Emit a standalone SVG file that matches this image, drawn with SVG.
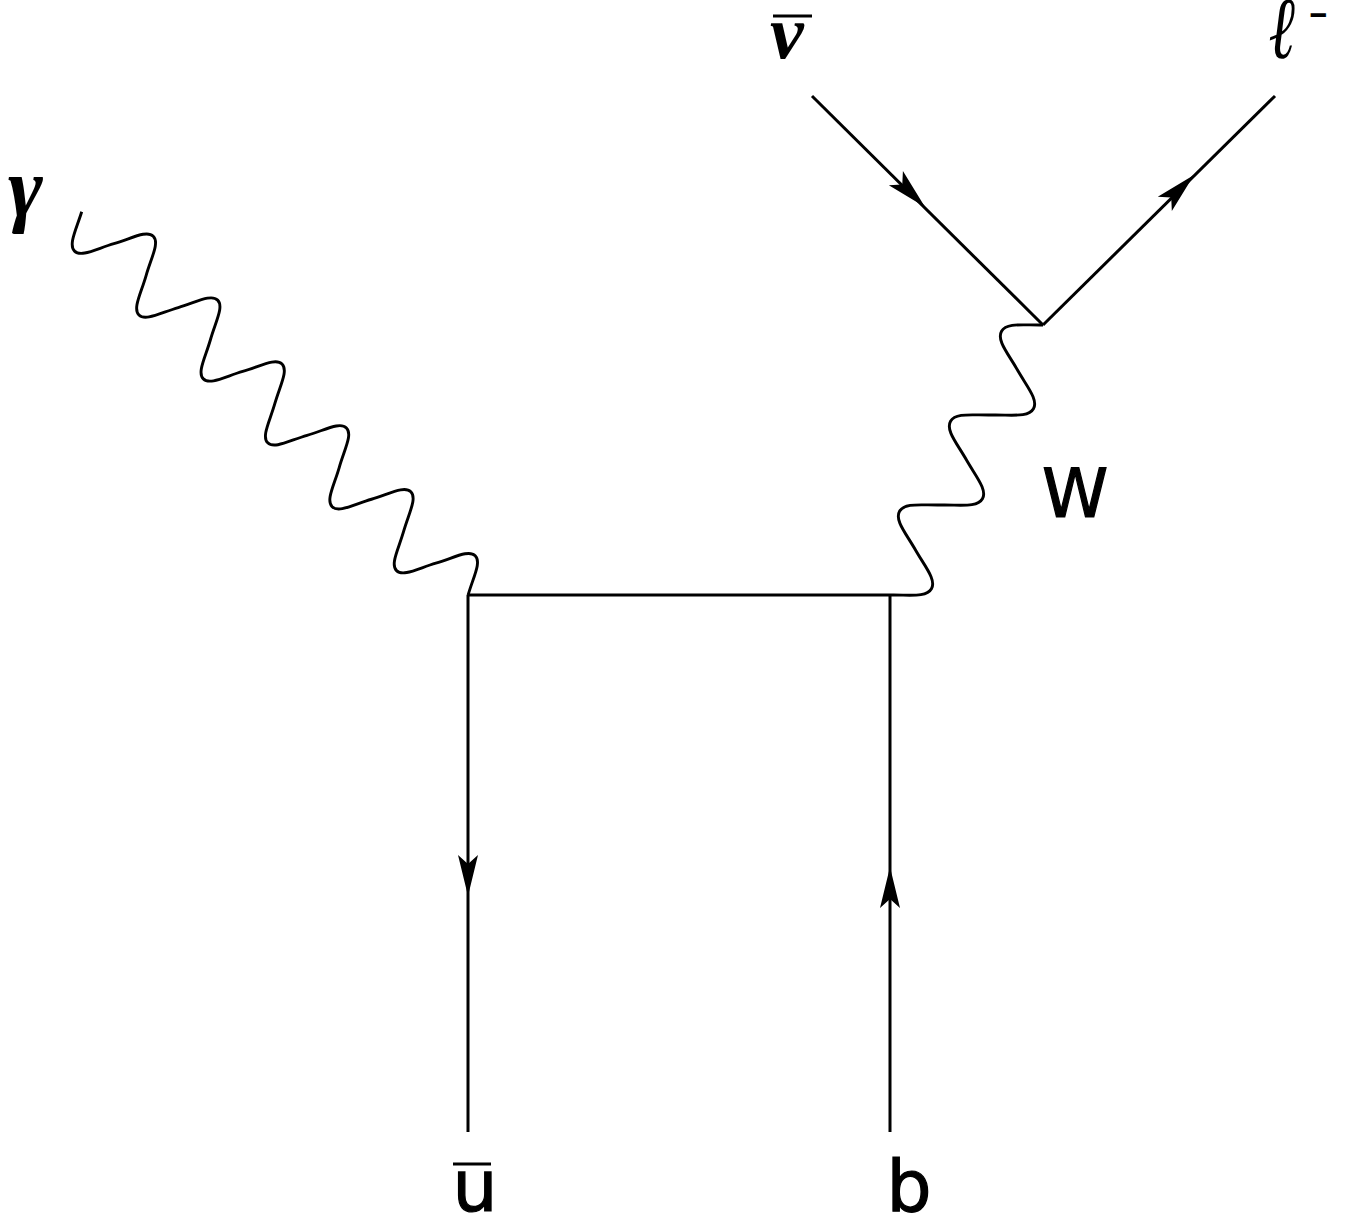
<svg xmlns="http://www.w3.org/2000/svg" width="1345" height="1218" viewBox="0 0 1345 1218">
<style>
.ln{fill:none;stroke:#000;stroke-width:3;stroke-linecap:butt}
.wv{fill:none;stroke:#000;stroke-width:2.9;stroke-linejoin:round}
.ar{fill:#000;stroke:none}
.bar{stroke:#000;stroke-width:3}
.greek{font-family:"Liberation Serif","DejaVu Serif",serif;font-weight:bold;font-style:italic;fill:#000}
.sans{font-family:"DejaVu Sans","Liberation Sans",sans-serif;fill:#000;stroke:#000;stroke-width:1.2}
</style>
<defs>
<path id="arrow" d="M0,0 L-41,-10 L-32,0 L-41,10 Z"/>
</defs>
<g id="connectors">
<path id="photon" class="wv" transform="translate(81.7,211.7) rotate(44.78)" d="M0,0 c8.62,16.5 13.61,33 22.68,33 s13.61,-16.5 22.68,-33 s13.61,-33 22.68,-33 s13.61,16.5 22.68,33 s13.61,33 22.68,33 s13.61,-16.5 22.68,-33 s13.61,-33 22.68,-33 s13.61,16.5 22.68,33 s13.61,33 22.68,33 s13.61,-16.5 22.68,-33 s13.61,-33 22.68,-33 s13.61,16.5 22.68,33 s13.61,33 22.68,33 s13.61,-16.5 22.68,-33 s13.61,-33 22.68,-33 s13.61,16.5 22.68,33 s13.61,33 22.68,33 s13.61,-16.5 22.68,-33 s13.61,-33 22.68,-33 s13.61,16.5 22.68,33 s13.61,33 22.68,33 s13.61,-16.5 22.68,-33 s13.61,-33 22.68,-33 s13.61,16.5 22.68,33"/>
<path id="wboson" class="wv" transform="translate(890,595) rotate(-60.46)" d="M0,0 c9.83,16.5 15.52,33 25.86,33 s16.03,-16.5 25.86,-33 s15.52,-33 25.86,-33 s16.03,16.5 25.86,33 s15.52,33 25.86,33 s16.03,-16.5 25.86,-33 s15.52,-33 25.86,-33 s16.03,16.5 25.86,33 s15.52,33 25.86,33 s16.03,-16.5 25.86,-33 s15.52,-33 25.86,-33 s16.03,16.5 25.86,33"/>
<line id="top-line" class="ln" x1="468" y1="595" x2="890" y2="595"/>
<line id="ubar-line" class="ln" x1="468" y1="595" x2="468" y2="1132"/>
<line id="b-line" class="ln" x1="890" y1="1132" x2="890" y2="595"/>
<line id="nubar-line" class="ln" x1="812" y1="96" x2="1043" y2="325"/>
<line id="lepton-line" class="ln" x1="1043" y1="325" x2="1275" y2="96"/>
<use href="#arrow" class="ar" transform="translate(468,896) rotate(90)"/>
<use href="#arrow" class="ar" transform="translate(890,867) rotate(-90)"/>
<use href="#arrow" class="ar" transform="translate(925,207) rotate(44.75)"/>
<use href="#arrow" class="ar" transform="translate(1194,175) rotate(-44.63)"/>
</g>
<g id="label-gamma"><text class="greek" x="8" y="215.5" font-size="84">γ</text></g>
<g id="label-nubar"><text class="greek" x="770" y="58" font-size="76">ν</text><line class="bar" x1="773" y1="16" x2="812" y2="16"/></g>
<g id="label-lepton"><text transform="translate(1268.5,58) scale(0.72,1)" x="0" y="0" font-size="88" font-family="DejaVu Serif, serif" font-style="italic" fill="#000">ℓ<tspan x="55" y="-32.4" font-size="34" font-family="DejaVu Sans, sans-serif" font-style="normal" font-weight="bold">−</tspan></text></g>
<g id="label-W"><text class="sans" x="1042" y="517" font-size="67">W</text></g>
<g id="label-ubar"><text class="sans" x="452.5" y="1211" font-size="71">u</text><line class="bar" x1="453" y1="1164" x2="491" y2="1164"/></g>
<g id="label-b"><text class="sans" x="886.5" y="1211" font-size="71">b</text></g>
</svg>
